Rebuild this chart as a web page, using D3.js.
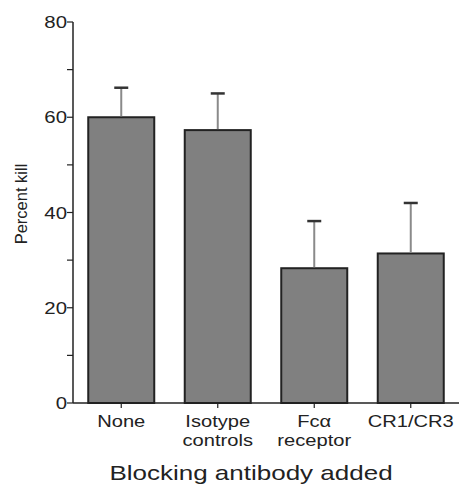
<!DOCTYPE html>
<html>
<head>
<meta charset="utf-8">
<style>
body { margin: 0; background: #fff; }
text { font-family: "Liberation Sans", Arial, sans-serif; fill: #222; }
</style>
<script src="https://cdn.jsdelivr.net/npm/d3@7"></script>
</head>
<body>
<div id="chart"></div>
<script>
// values
var categories = ["None", "Isotype controls", "Fc\u03b1 receptor", "CR1/CR3"];
var catLines = [["None"], ["Isotype", "controls"], ["Fc\u03b1", "receptor"], ["CR1/CR3"]];
var means = [60, 57.3, 28.3, 31.4];
var upper = [66.2, 65, 38.2, 42];
var yTicks = [0, 20, 40, 60, 80];
var yMinor = [10, 30, 50, 70];

var width = 459, height = 491;
var svg = d3.select("#chart").append("svg")
    .attr("width", width)
    .attr("height", height);

var x = d3.scaleBand()
    .domain(categories)
    .range([73, 459])
    .paddingInner(0.316)
    .paddingOuter(0.158);

var y = d3.scaleLinear()
    .domain([0, 80])
    .range([403, 22]);

// bars
svg.selectAll("rect.bar")
    .data(categories)
    .enter()
    .append("rect")
        .attr("class", "bar")
        .attr("x", function(d) { return x(d); })
        .attr("y", function(d, i) { return y(means[i]); })
        .attr("width", x.bandwidth())
        .attr("height", function(d, i) { return y(0) - y(means[i]); })
        .style("fill", "#808080")
        .style("stroke", "#222")
        .style("stroke-width", "2px");

// error bars: grey stem, dark cap
svg.selectAll("line.stem")
    .data(categories)
    .enter()
    .append("line")
        .attr("x1", function(d) { return x(d) + x.bandwidth() / 2; })
        .attr("x2", function(d) { return x(d) + x.bandwidth() / 2; })
        .attr("y1", function(d, i) { return y(means[i]) - 1; })
        .attr("y2", function(d, i) { return y(upper[i]); })
        .style("stroke", "#8a8a8a")
        .style("stroke-width", "2px");

svg.selectAll("line.cap")
    .data(categories)
    .enter()
    .append("line")
        .attr("x1", function(d) { return x(d) + x.bandwidth() / 2 - 7; })
        .attr("x2", function(d) { return x(d) + x.bandwidth() / 2 + 7; })
        .attr("y1", function(d, i) { return y(upper[i]); })
        .attr("y2", function(d, i) { return y(upper[i]); })
        .style("stroke", "#333")
        .style("stroke-width", "2.5px");

// y axis
var yAxis = svg.append("g").attr("transform", "translate(73,0)");
yAxis.append("line")
    .attr("x1", 0).attr("x2", 0)
    .attr("y1", y(80)).attr("y2", y(0))
    .style("stroke", "#222").style("stroke-width", "1.5px");
yAxis.selectAll("line.tick")
    .data(yTicks.concat(yMinor))
    .enter()
    .append("line")
        .attr("x1", -6).attr("x2", 0)
        .attr("y1", function(d) { return y(d); })
        .attr("y2", function(d) { return y(d); })
        .style("stroke", "#222").style("stroke-width", "1.2px");
yAxis.selectAll("text")
    .data(yTicks)
    .enter()
    .append("text")
        .attr("transform", function(d) { return "translate(-6," + (y(d) + 6) + ") scale(1.2,1)"; })
        .attr("text-anchor", "end")
        .style("font-size", "17px")
        .text(function(d) { return d; });

svg.append("text")
    .attr("transform", "translate(27,204) rotate(-90)")
    .attr("text-anchor", "middle")
    .style("font-size", "16.5px")
    .text("Percent kill");

// x axis
svg.append("line")
    .attr("x1", 73).attr("x2", 459)
    .attr("y1", y(0)).attr("y2", y(0))
    .style("stroke", "#222").style("stroke-width", "1.5px");
svg.selectAll("line.xtick")
    .data(categories)
    .enter()
    .append("line")
        .attr("x1", function(d) { return x(d) + x.bandwidth() / 2; })
        .attr("x2", function(d) { return x(d) + x.bandwidth() / 2; })
        .attr("y1", y(0)).attr("y2", y(0) + 5)
        .style("stroke", "#222").style("stroke-width", "1.2px");

var labels = svg.selectAll("g.xlab")
    .data(categories)
    .enter()
    .append("g")
        .attr("transform", function(d) { return "translate(" + (x(d) + x.bandwidth() / 2) + ",427) scale(1.22,1)"; });
labels.each(function(d, i) {
    d3.select(this).selectAll("text")
        .data(catLines[i])
        .enter()
        .append("text")
            .attr("y", function(t, j) { return j * 19; })
            .attr("text-anchor", "middle")
            .style("font-size", "16.5px")
            .text(function(t) { return t; });
});

svg.append("text")
    .attr("transform", "translate(251,480) scale(1.3,1)")
    .attr("text-anchor", "middle")
    .style("font-size", "20px")
    .text("Blocking antibody added");
</script>
</body>
</html>
